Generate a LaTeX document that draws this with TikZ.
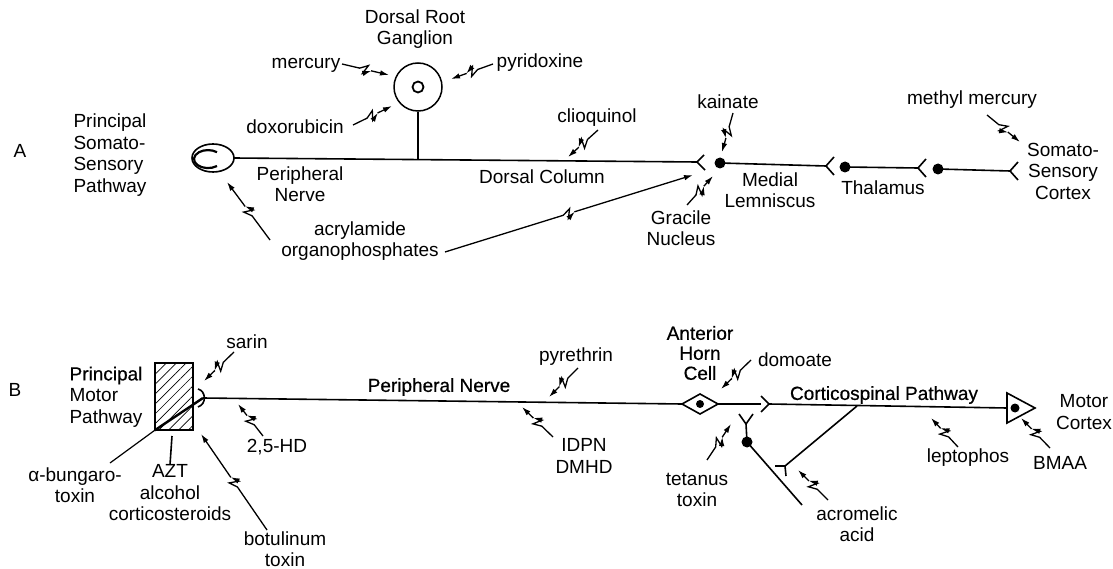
\documentclass[tikz,border=0pt]{standalone}
\usepackage{fontspec}
\setmainfont{Liberation Sans}
\newfontfamily\heavyfont[FakeBold=0.6]{Liberation Sans}
\usetikzlibrary{arrows.meta,decorations.markings,calc,patterns.meta}
\begin{document}
\begin{tikzpicture}[x=1pt,y=-1pt,
  lbl/.style={font=\fontsize{19}{21.5}\selectfont, align=center, inner sep=0pt},
  lbll/.style={lbl, align=left},
  bl/.style={lbl, font=\fontsize{19}{20}\selectfont\heavyfont},
  ln/.style={line width=1.6pt},
  dot/.style={circle, fill, inner sep=0pt, minimum size=11pt},
  zap/.style={line width=1.3pt, -{Latex[length=9pt,width=5.5pt]},
    decoration={markings, mark=at position 0.5 with {
      \fill[white] (-5.5pt,-3pt) rectangle (5.5pt,3pt);
      \draw[line width=1.3pt] (-6pt,0pt) -- (2pt,4.5pt) -- (-2pt,-4.5pt) -- (6pt,0pt);}},
    postaction={decorate}},
]
\useasboundingbox (0,0) rectangle (1113,569);

% ================= Panel A =================
\node[lbl] (A) at (20,151) {A};
\node[lbll] (psp) at (110,155) {Principal\\Somato-\\Sensory\\Pathway};

\coordinate (ell) at (213,158);
\draw[ln] (ell) ellipse [x radius=21, y radius=14];
\draw[line width=2.2pt] (217,166) arc[start angle=50, end angle=310, x radius=14, y radius=9];
\coordinate (pn0) at (234,158);
\coordinate (s1) at (697,162);
\draw[ln] (pn0) -- (s1);
\draw[ln] (s1) -- ++(7,-7) (s1) -- ++(8,8);

\node[circle, draw, line width=1.5pt, minimum size=48pt, inner sep=0pt] (drg) at (418,87) {};
\node[circle, draw, line width=1.8pt, minimum size=11pt, inner sep=0pt] (nuc) at (drg) {};
\coordinate (stem) at (418,160);
\draw[ln] (drg.south) -- (stem);

\node[lbl] (drgl) at (415,29) {Dorsal Root\\Ganglion};
\node[lbl] (merc) at (306,65) {mercury};
\coordinate (mercs) at (342,64);
\coordinate (merct) at (389,75);
\draw[zap] (mercs) -- (merct);
\node[lbl] (pyr) at (540,63) {pyridoxine};
\coordinate (pyrs) at (493,64);
\coordinate (pyrt) at (451,79);
\draw[zap] (pyrs) -- (pyrt);
\node[lbl] (dox) at (295,127) {doxorubicin};
\coordinate (doxs) at (353,125);
\coordinate (doxt) at (392,106);
\draw[zap] (doxs) -- (doxt);

\node[lbl] (pnl) at (300,184) {Peripheral\\Nerve};
\node[lbl] (cli) at (597,118) {clioquinol};
\coordinate (clis) at (598,130);
\coordinate (clit) at (568,157);
\draw[zap] (clis) -- (clit);
\node[lbl] (dcl) at (542,177) {Dorsal Column};

\node[dot] (gn) at (720,163) {};
\node[lbl] (kai) at (728,102) {kainate};
\coordinate (kais) at (733,113);
\coordinate (kait) at (722,152);
\draw[zap] (kais) -- (kait);
\node[lbl] (gra) at (681,228) {Gracile\\Nucleus};
\coordinate (gras) at (687,205);
\coordinate (grat) at (713,176);
\draw[zap] (gras) -- (grat);

\node[lbl] (acr) at (360,241) {acrylamide\\organophosphates};
\coordinate (acr1) at (270,240);
\coordinate (acrt1) at (227,182);
\draw[zap] (acr1) -- (acrt1);
\coordinate (acr2) at (445,252);
\coordinate (acrt2) at (693,175);
\draw[zap] (acr2) -- (acrt2);

\node[lbl] (ml) at (770,190) {Medial\\Lemniscus};
\coordinate (s2) at (826,166);
\draw[ln] (gn.center) -- (s2);
\draw[ln] (s2) -- ++(8,-9) (s2) -- ++(8,9);
\node[dot] (th1) at (845,167) {};
\node[lbl] (thl) at (883,188) {Thalamus};
\coordinate (s3) at (918,168);
\draw[ln] (th1.center) -- (s3);
\draw[ln] (s3) -- ++(8,-9) (s3) -- ++(8,9);
\node[dot] (th2) at (938,169) {};
\coordinate (s4) at (1010,171);
\draw[ln] (th2.center) -- (s4);
\draw[ln] (s4) -- ++(8,-9) (s4) -- ++(8,9);
\node[lbl] (ssc) at (1063,171) {Somato-\\Sensory\\Cortex};
\node[lbl] (mm) at (972,100) {methyl mercury};
\coordinate (mms) at (987,115);
\coordinate (mmt) at (1020,142);
\draw[zap] (mms) -- (mmt);

% ================= Panel B =================
\node[lbl] (B) at (15,390) {B};
\node[lbll] (pmp) at (106,397) {{\heavyfont Principal}\\Motor\\Pathway};

\node[draw, line width=1.5pt, minimum width=38pt, minimum height=67pt, inner sep=0pt,
  pattern={Lines[angle=45,distance=7pt,line width=0.7pt]}] (mus) at (174,396.5) {};
\coordinate (nmj) at (203,398);
\draw[line width=2.4pt] (mus.south west) -- (nmj);
\draw[ln] (198,389) .. controls (206,391) and (207,404) .. (198,407);
\coordinate (ahcw) at (682,404);
\coordinate (ahcn) at (700,394);
\coordinate (ahce) at (718,404);
\coordinate (ahcs) at (700,414);
\draw[ln] (nmj) -- (ahcw);
\draw[ln] (ahcw) -- (ahcn) -- (ahce) -- (ahcs) -- cycle;
\node[dot, minimum size=8pt] (ahc) at (700,404) {};

\node[lbl] (sar) at (247,342) {sarin};
\coordinate (sars) at (234,352);
\coordinate (sart) at (204,381);
\draw[zap] (sars) -- (sart);
\node[lbl] (hd) at (277,447) {2,5-HD};
\coordinate (hds) at (263,436);
\coordinate (hdt) at (238,404);
\draw[zap] (hds) -- (hdt);
\node[lbl] (abt) at (75,485) {α-bungaro-\\toxin};
\coordinate (abts) at (110,463);
\draw[line width=1.2pt] (abts) -- (mus.south west);
\node[lbl] (azt) at (170,493) {AZT\\alcohol\\corticosteroids};
\coordinate (aztt) at (172,436);
\draw[ln] (aztt) -- (azt.north);
\node[lbl] (bot) at (285,549) {botulinum\\toxin};
\coordinate (bots) at (267,530);
\coordinate (bott) at (201,434);
\draw[zap] (bots) -- (bott);

\node[bl] (pnb) at (439,387) {Peripheral Nerve};
\node[lbl] (pyre) at (576,357) {pyrethrin};
\coordinate (pyres) at (578,368);
\coordinate (pyret) at (549,397);
\draw[zap] (pyres) -- (pyret);
\node[lbl] (idpn) at (584,456) {IDPN\\DMHD};
\coordinate (idps) at (553,437);
\coordinate (idpt) at (522,407);
\draw[zap] (idps) -- (idpt);

\node[bl] (ahcl) at (700,353) {Anterior\\Horn\\Cell};
\node[lbl] (dom) at (795,360) {domoate};
\coordinate (doms) at (751,360);
\coordinate (domt) at (721,389);
\draw[zap] (doms) -- (domt);

\coordinate (s5) at (769,404);
\draw[ln] (ahce) -- (761,404);
\draw[ln] (s5) -- ++(-8,-8) (s5) -- ++(-8,8);

\coordinate (yv) at (746,424);
\node[dot] (ind) at (747,442) {};
\draw[ln] (ind.center) -- (yv) -- ++(-7,-10) (yv) -- ++(7,-10);
\coordinate (inde) at (802,505);
\draw[ln] (ind.center) -- (inde);
\node[lbl] (tet) at (697,490) {tetanus\\toxin};
\coordinate (tets) at (707,460);
\coordinate (tett) at (731,424);
\draw[zap] (tets) -- (tett);

\coordinate (br0) at (857,406);
\coordinate (br1) at (785,466);
\draw[ln] (br0) -- (br1);
\draw[ln] (br1) -- ++(-10,0) (br1) -- ++(1,10);
\node[lbl] (acro) at (857,524) {acromelic\\acid};
\coordinate (acros) at (828,500);
\coordinate (acrot) at (798,470);
\draw[zap] (acros) -- (acrot);

\coordinate (tw) at (1007,408);
\coordinate (tt) at (1007,393);
\coordinate (te) at (1035,408);
\coordinate (tb) at (1007,423);
\draw[ln] (s5) -- (tw);
\draw[ln] (tt) -- (te) -- (tb) -- cycle;
\node[dot, minimum size=9pt] (umn) at (1015,408) {};
\node[bl] (csp) at (884,395) {Corticospinal Pathway};
\node[lbl] (mc) at (1084,412) {Motor\\Cortex};
\node[lbl] (lep) at (968,458) {leptophos};
\coordinate (leps) at (958,447);
\coordinate (lept) at (931,418);
\draw[zap] (leps) -- (lept);
\node[lbl] (bmaa) at (1060,463) {BMAA};
\coordinate (bms) at (1050,448);
\coordinate (bmt) at (1021,418);
\draw[zap] (bms) -- (bmt);
\end{tikzpicture}
\end{document}
